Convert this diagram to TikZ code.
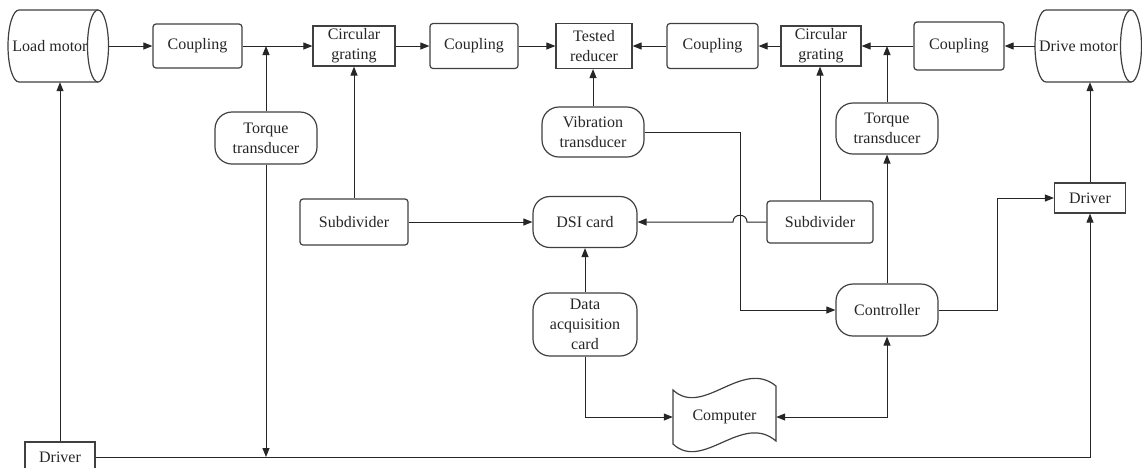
\documentclass[tikz,border=0pt]{standalone}
\usepackage{fontspec}
\setmainfont{Liberation Serif}
\usetikzlibrary{arrows.meta}
\begin{document}
\begin{tikzpicture}[x=1pt,y=-1pt,
  every node/.style={font=\fontsize{16}{20}\selectfont, align=center, inner sep=0pt, text=black!85},
  sq/.style={draw=black!75, line width=1.2pt, fill=white},
  rr/.style={sq, rounded corners=3pt},
  st/.style={sq, rounded corners=17pt},
  ghost/.style={draw=none},
  ln/.style={draw=black!85, line width=1pt},
  ar/.style={ln, -{Triangle[length=9pt,width=7pt]}},
  dar/.style={ln, {Triangle[length=9pt,width=7pt]}-{Triangle[length=9pt,width=7pt]}},
]
\useasboundingbox (0,0) rectangle (1142,467);

% Load motor cylinder
\draw[sq] (98,10) -- (19,10) .. controls (12.9,10) and (8,26.1) .. (8,46) .. controls (8,65.9) and (12.9,82) .. (19,82) -- (98,82);
\draw[sq] (98,46) ellipse [x radius=10.5, y radius=36];
\node[ghost, minimum width=101, minimum height=72] (LM) at (58.5,46) {};
\node (LMt) at (50,46) {Load motor};

% Drive motor cylinder
\draw[sq] (1131,10) -- (1046,10) .. controls (1039.9,10) and (1035,26.1) .. (1035,46) .. controls (1035,65.9) and (1039.9,82) .. (1046,82) -- (1131,82);
\draw[sq] (1131,46) ellipse [x radius=10.5, y radius=36];
\node[ghost, minimum width=107, minimum height=72] (DM) at (1088.5,46) {};
\node (DMt) at (1078.5,46) {Drive motor};

% top row
\node[rr, minimum width=89, minimum height=44] (c1) at (197.5,46) {Coupling};
\node[sq, minimum width=82, minimum height=40] (cg1) at (354,46) {Circular\\grating};
\node[rr, minimum width=88, minimum height=45] (c2) at (474,46) {Coupling};
\node[sq, minimum width=76, minimum height=45] (tr) at (594,46) {Tested\\reducer};
\node[rr, minimum width=91, minimum height=45] (c3) at (712.5,46) {Coupling};
\node[sq, minimum width=80, minimum height=40] (cg2) at (821,46) {Circular\\grating};
\node[rr, minimum width=90, minimum height=48] (c4) at (959,46) {Coupling};

% transducers
\node[st, minimum width=102, minimum height=52] (tq1) at (266,138) {Torque\\transducer};
\node[st, minimum width=102, minimum height=50] (vib) at (593,132) {Vibration\\transducer};
\node[st, minimum width=102, minimum height=51] (tq2) at (887,128.5) {Torque\\transducer};

% middle row
\node[rr, minimum width=108, minimum height=46] (sd1) at (354,222) {Subdivider};
\node[st, minimum width=104, minimum height=51] (dsi) at (585,222) {DSI card};
\node[rr, minimum width=106, minimum height=42] (sd2) at (820,222) {Subdivider};
\node[sq, minimum width=71, minimum height=30] (dr2) at (1090,198) {Driver};

% lower row
\node[st, minimum width=104, minimum height=63] (daq) at (585,324.5) {Data\\acquisition\\card};
\node[st, minimum width=102, minimum height=52] (ctl) at (887,310) {Controller};

% computer (tape shape)
\draw[sq] (673,390) .. controls (703,418) and (742,358) .. (776,386) -- (776,441) .. controls (742,412) and (703,472) .. (673,444) -- cycle;
\node[ghost, minimum width=103, minimum height=54] (comp) at (724.5,417) {Computer};

% driver 1
\node[sq, minimum width=70, minimum height=30] (dr1) at (60,457) {Driver};

% junction coordinates
\coordinate (j) at (740,222);
\coordinate (k) at (997,250);

% connectors, top row
\draw[ar] (LM.east) -- (c1.west);
\draw[ar] (c1.east) -- (cg1.west);
\draw[ar] (tq1.north) -- (tq1.north |- c1.east);
\draw[ar] (cg1.east) -- (c2.west);
\draw[ar] (c2.east) -- (tr.west);
\draw[ar] (c3.west) -- (tr.east);
\draw[ar] (cg2.west) -- (c3.east);
\draw[ar] (c4.west) -- (cg2.east);
\draw[ar] (tq2.north) -- (tq2.north |- c4.west);
\draw[ar] (DM.west) -- (c4.east);

% vertical feeds
\draw[ar] (sd1.north) -- (cg1.south);
\draw[ar] (sd2.north) -- (sd2.north |- cg2.south);
\draw[ar] (vib.north) -- (vib.north |- tr.south);
\draw[ar] (tq1.south) -- (tq1.south |- dr1.east);
\draw[ar] (dr1.north) -- (dr1.north |- LM.south);
\draw[ar] (dr1.east) -| (dr2.south);
\draw[ar] (dr2.north) -- (dr2.north |- DM.south);

% middle
\draw[ar] (sd1.east) -- (dsi.west);
\draw[ar] (sd2.west) -- ([xshift=7pt]j) .. controls ([xshift=7pt,yshift=9pt]j) and ([xshift=-7pt,yshift=9pt]j) .. ([xshift=-7pt]j) -- (dsi.east);
\draw[ar] (vib.east) -| (j) |- (ctl.west);
\draw[ar] (daq.north) -- (dsi.south);
\draw[ar] (daq.south) |- (comp.west);
\draw[dar] (comp.east) -| (ctl.south);
\draw[ar] (ctl.north) -- (tq2.south);
\draw[ar] (ctl.east) -| (k) |- (dr2.west);
\end{tikzpicture}
\end{document}
